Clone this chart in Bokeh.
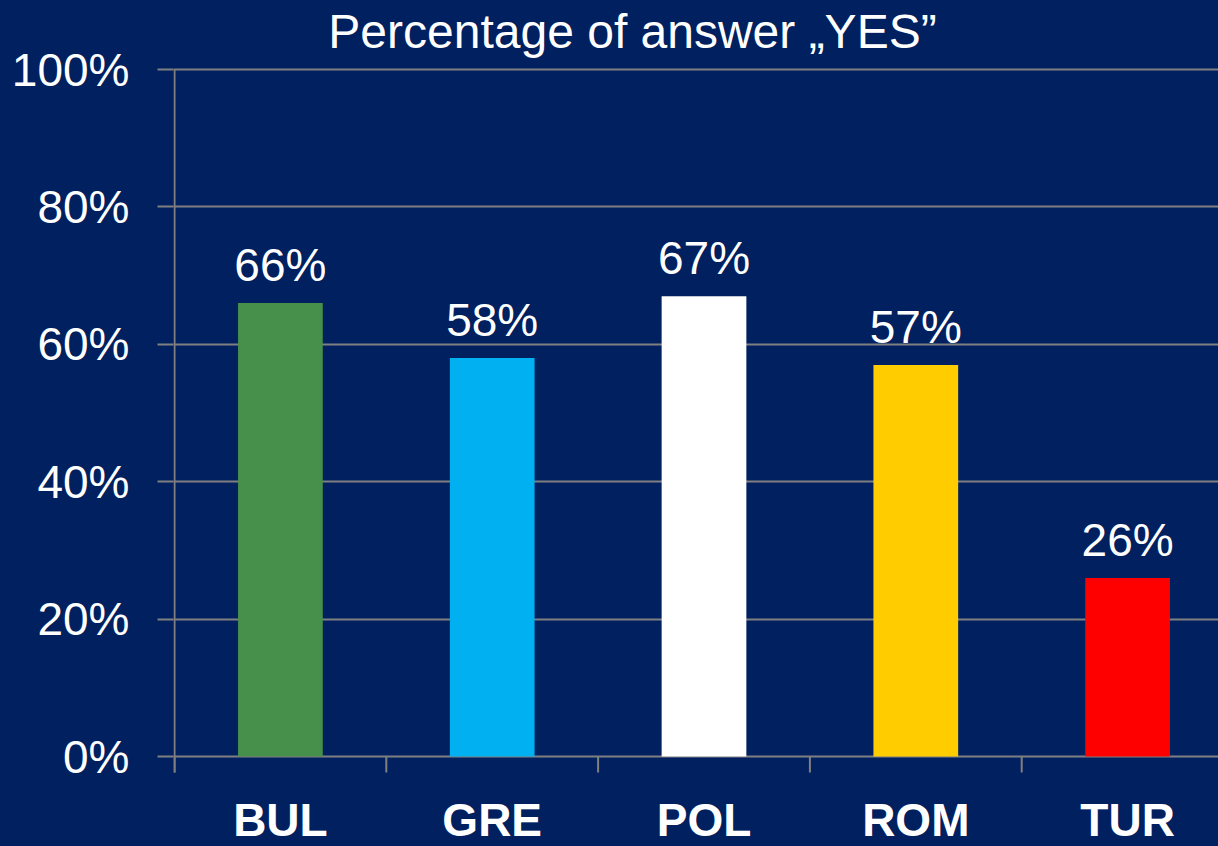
from bokeh.plotting import figure
from bokeh.models import ColumnDataSource, Range1d, FixedTicker
from bokeh.embed import file_html
from bokeh.resources import INLINE
from bokeh.core.properties import value

categories = ["BUL", "GRE", "POL", "ROM", "TUR"]
values = [66, 58, 67, 57, 26]
colors = ["#46904B", "#00B0F0", "#FFFFFF", "#FFCC00", "#FF0000"]
y_ticks = [0, 20, 40, 60, 80, 100]
y_tick_labels = ["0%", "20%", "40%", "60%", "80%", "100%"]
title_text = "Percentage of answer \u201eYES\u201d"

BG = "#002060"
GRID = "#808080"
FONT = "Liberation Sans"

# layout constants (pixels)
W, H = 1218, 846
FRAME_LEFT = 173
PX_PER_CAT = 211.8
PX_PER_PCT = 6.87          # 100% spans 687 px
ZERO_FROM_BOTTOM = 90      # 0% line sits 90 px above the bottom edge
TOP_OF_100 = 69            # 100% line 69 px below the top edge

x_start = -1 / PX_PER_CAT
x_end = x_start + (W - FRAME_LEFT) / PX_PER_CAT
y_start = -ZERO_FROM_BOTTOM / PX_PER_PCT
y_end = 100 + TOP_OF_100 / PX_PER_PCT

n = len(categories)
centers = [i + 0.5 for i in range(n)]
boundaries = list(range(n + 1))

src = ColumnDataSource(dict(
    x=centers, top=values, color=colors,
    label=[f"{v}%" for v in values],
    label_y=[v + 38 / PX_PER_PCT for v in values],
    cat=categories,
    cat_y=[-63 / PX_PER_PCT] * n,
))

p = figure(width=W, height=H, output_backend="svg", toolbar_location=None,
           x_range=Range1d(x_start, x_end), y_range=Range1d(y_start, y_end),
           min_border_left=FRAME_LEFT, min_border_right=0,
           min_border_top=0, min_border_bottom=0)
p.background_fill_color = BG
p.border_fill_color = BG
p.outline_line_color = None
p.styles = {"background-color": BG}

p.xgrid.grid_line_color = None
p.ygrid.grid_line_color = GRID
p.ygrid.grid_line_width = 2
p.ygrid.level = "underlay"

tick_len = 16 / PX_PER_PCT
# y axis line (0%..100%) continuing into the first category tick
p.segment(x0=[0], y0=[-tick_len], x1=[0], y1=[100], line_color=GRID, line_width=2)
# category boundary tick marks below the 0% line
p.segment(x0=boundaries, y0=[0] * (n + 1), x1=boundaries, y1=[-tick_len] * (n + 1),
          line_color=GRID, line_width=2)

p.vbar(x="x", top="top", bottom=0, width=0.4, color="color", line_color=None, source=src)
p.text(x="x", y="label_y", text="label", source=src, text_align="center",
       text_baseline="middle", text_color="white",
       text_font=value(FONT), text_font_size="46px")
p.text(x="x", y="cat_y", text="cat", source=src, text_align="center",
       text_baseline="middle", text_color="white", text_font_style="bold",
       text_font=value(FONT), text_font_size="46px")

# chart title
title_x = (632 - 174) / PX_PER_CAT
title_y = 100 + 38.5 / PX_PER_PCT
p.text(x=[title_x], y=[title_y], text=[title_text], text_align="center",
       text_baseline="middle", text_color="white",
       text_font=value(FONT), text_font_size="48px")

p.xaxis.visible = False

ya = p.yaxis[0]
ya.ticker = FixedTicker(ticks=y_ticks)
ya.major_label_overrides = {t: l for t, l in zip(y_ticks, y_tick_labels)}
ya.major_tick_out = 16
ya.major_tick_in = 0
ya.major_tick_line_width = 2
ya.minor_tick_line_color = None
ya.major_tick_line_color = GRID
ya.axis_line_color = None
ya.major_label_text_color = "white"
ya.major_label_text_font = FONT
ya.major_label_text_font_size = "46px"
ya.major_label_standoff = 28

open("out.html", "w").write(file_html(p, INLINE))
